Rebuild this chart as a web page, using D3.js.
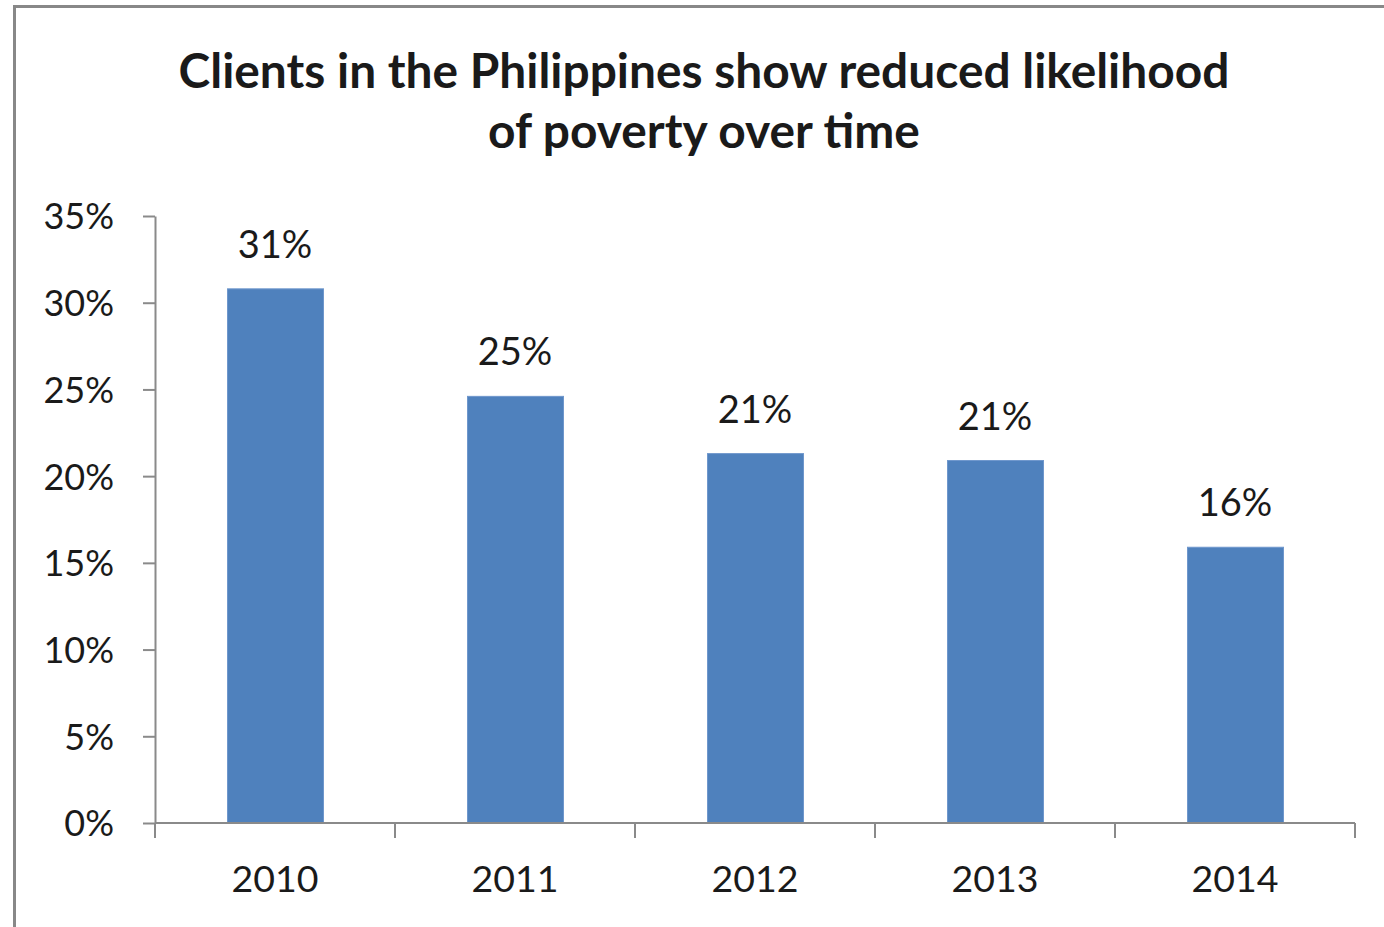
<!DOCTYPE html>
<html>
<head>
<meta charset="utf-8">
<script src="https://cdn.jsdelivr.net/npm/d3@7"></script>
<style>
  html, body { margin: 0; padding: 0; background: #fff; }
  svg { display: block; }
  text { font-family: Lato, "Open Sans", sans-serif; fill: #1a1a1a; }
</style>
</head>
<body>
<svg id="chart" width="1384" height="927"></svg>
<script>
const categories = ["2010", "2011", "2012", "2013", "2014"];
const values = [0.308, 0.246, 0.213, 0.209, 0.159];
const yTicks = [0, 0.05, 0.10, 0.15, 0.20, 0.25, 0.30, 0.35];
const titleLines = ["Clients in the Philippines show reduced likelihood", "of poverty over time"];

(function () {
const svg = d3.select("#chart");
const W = 1384, H = 927;
const plotLeft = 155, plotRight = 1355, plotTop = 216, plotBottom = 823;

// outer border
svg.append("rect")
  .attr("x", 14.5).attr("y", 6.5)
  .attr("width", W + 20).attr("height", H + 20)
  .attr("fill", "#fff").attr("stroke", "#888").attr("stroke-width", 3);

const x = d3.scaleBand().domain(categories).range([plotLeft, plotRight])
  .paddingInner(0.6).paddingOuter(0.3);
const y = d3.scaleLinear().domain([0, 0.35]).range([plotBottom, plotTop]);

// title
const title = svg.append("text")
  .attr("text-anchor", "middle")
  .style("font-weight", "bold")
  .style("font-size", "40px");
title.selectAll("tspan").data(titleLines).join("tspan")
  .attr("x", 704)
  .attr("y", (d, i) => 88 + i * 60)
  .text(d => d);
const first = title.select("tspan").node();
const w0 = first.getComputedTextLength();
if (w0 > 0) title.style("font-size", (40 * 1051 / w0).toFixed(2) + "px");

// y axis
const yAxis = svg.append("g")
  .attr("transform", `translate(${plotLeft},0)`)
  .call(d3.axisLeft(y).tickValues(yTicks).tickFormat(d3.format(".0%"))
    .tickSize(12).tickPadding(29).tickSizeOuter(0));
yAxis.select(".domain").attr("stroke", "#8a8a8a").attr("stroke-width", 2);
yAxis.selectAll(".tick line").attr("stroke", "#8a8a8a").attr("stroke-width", 2);
yAxis.selectAll(".tick text")
  .style("font-family", "Lato, sans-serif").style("font-size", "36px")
  .attr("fill", "#1a1a1a").attr("dy", "0.36em");

// bars
svg.append("g").selectAll("rect").data(values).join("rect")
  .attr("x", (d, i) => x(categories[i]) + 0.5)
  .attr("y", d => y(d))
  .attr("width", x.bandwidth())
  .attr("height", d => y(0) - y(d))
  .attr("fill", "#4f81bd")
  .attr("stroke", "#6f97cc").attr("stroke-width", 1);

// value labels
svg.append("g").selectAll("text").data(values).join("text")
  .attr("x", (d, i) => x(categories[i]) + x.bandwidth() / 2)
  .attr("y", d => y(d) - 31)
  .attr("text-anchor", "middle")
  .style("font-size", "38px")
  .text(d => d3.format(".0%")(d));

// x axis
const xAxis = svg.append("g").attr("transform", `translate(0,${plotBottom})`);
xAxis.append("line").attr("x1", plotLeft).attr("x2", plotRight)
  .attr("stroke", "#8a8a8a").attr("stroke-width", 2);
const step = x.step();
const boundaries = d3.range(categories.length + 1).map(i => plotLeft + i * step);
xAxis.selectAll("line.tk").data(boundaries).join("line").attr("class", "tk")
  .attr("x1", d => d).attr("x2", d => d).attr("y1", 0).attr("y2", 15)
  .attr("stroke", "#8a8a8a").attr("stroke-width", 2);
xAxis.selectAll("text").data(categories).join("text")
  .attr("x", d => x(d) + x.bandwidth() / 2)
  .attr("y", 69)
  .attr("text-anchor", "middle")
  .style("font-size", "37.5px")
  .text(d => d);
})();
</script>
</body>
</html>
